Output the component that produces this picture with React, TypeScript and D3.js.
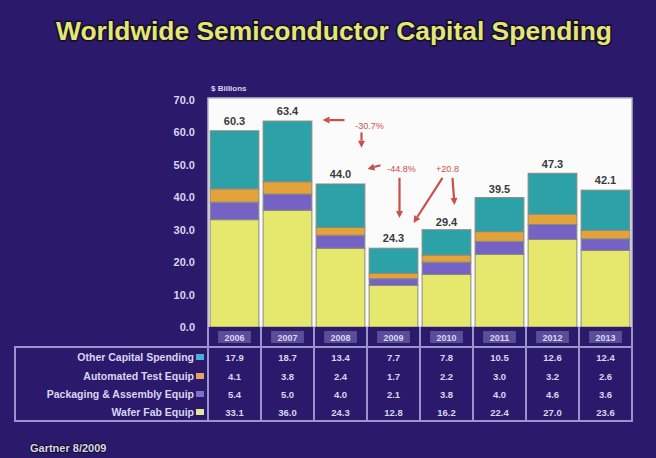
import { useMemo } from "react";
import * as d3 from "d3";

const YEARS = ["2006", "2007", "2008", "2009", "2010", "2011", "2012", "2013"];
const OTHER = [17.9, 18.7, 13.4, 7.7, 7.8, 10.5, 12.6, 12.4];
const ATE = [4.1, 3.8, 2.4, 1.7, 2.2, 3.0, 3.2, 2.6];
const PACKAGING = [5.4, 5.0, 4.0, 2.1, 3.8, 4.0, 4.6, 3.6];
const WAFER = [33.1, 36.0, 24.3, 12.8, 16.2, 22.4, 27.0, 23.6];
const TOTALS = [60.3, 63.4, 44.0, 24.3, 29.4, 39.5, 47.3, 42.1];
const Y_TICKS = [0, 10, 20, 30, 40, 50, 60, 70];

// stack order bottom -> top
const SERIES = [
  { key: "wafer", label: "Wafer Fab Equip", values: WAFER, color: "#e6e86e", swatch: "#dfe89a" },
  { key: "pack", label: "Packaging & Assembly Equip", values: PACKAGING, color: "#7462c4", swatch: "#7a70d0" },
  { key: "ate", label: "Automated Test Equip", values: ATE, color: "#e4a23a", swatch: "#e8a060" },
  { key: "other", label: "Other Capital Spending", values: OTHER, color: "#2ca2a8", swatch: "#48aee0" },
];
const TABLE_ORDER = ["other", "ate", "pack", "wafer"];

const BG = "#2b1a6c";
const LINE = "#9a94cc";
const TXT = "#d8d6f0";
const RED = "#c8504a";
const FONT = "'Liberation Sans', Arial, sans-serif";

export default function App() {
  const W = 656;
  const H = 458;
  const plot = { left: 208, right: 632, top: 98, bottom: 327 };

  const x = d3.scaleBand<string>().domain(YEARS).range([plot.left, plot.right]).paddingInner(0.08).paddingOuter(0.04);
  const y = d3.scaleLinear().domain([0, 70]).range([plot.bottom, plot.top + 2]);

  const stacked = useMemo(() => {
    const rows = YEARS.map((yr, i) => {
      const r: Record<string, number | string> = { year: yr };
      SERIES.forEach((s) => (r[s.key] = s.values[i]));
      return r;
    });
    return d3.stack<Record<string, number | string>>().keys(SERIES.map((s) => s.key))(rows as never);
  }, []);

  const step = (plot.right - plot.left) / YEARS.length;
  const colX = (i: number) => plot.left + step * i;
  const rowY = [357, 376, 394, 412];
  const tableTop = 347;
  const tableBottom = 421;
  const cx = (yr: string) => x(yr)! + x.bandwidth() / 2;

  const arrow = (x1: number, y1: number, x2: number, y2: number, k: string) => {
    const a = Math.atan2(y2 - y1, x2 - x1);
    const hl = 7;
    const hw = 3.5;
    const bx = x2 - hl * Math.cos(a);
    const by = y2 - hl * Math.sin(a);
    const p = [
      [x2, y2],
      [bx + hw * Math.sin(a), by - hw * Math.cos(a)],
      [bx - hw * Math.sin(a), by + hw * Math.cos(a)],
    ];
    return (
      <g key={k}>
        <line x1={x1} y1={y1} x2={bx} y2={by} stroke={RED} strokeWidth={2.2} />
        <polygon points={p.map((q) => q.join(",")).join(" ")} fill={RED} />
      </g>
    );
  };

  return (
    <svg width={W} height={H} style={{ position: "absolute", left: 0, top: 0 }} fontFamily={FONT}>
      <rect width={W} height={H} fill={BG} />

      {/* title */}
      <text
        x={W / 2 + 6}
        y={40}
        textAnchor="middle"
        fontSize={25}
        fontWeight="bold"
        fill="#e4e67a"
        stroke="#141020"
        strokeWidth={3}
        paintOrder="stroke"
        textLength={556}
        lengthAdjust="spacingAndGlyphs"
      >
        Worldwide Semiconductor Capital Spending
      </text>

      {/* plot frame */}
      <rect x={plot.left} y={plot.top} width={plot.right - plot.left} height={plot.bottom - plot.top} fill="#fbfbfb" stroke="#b8b6c8" strokeWidth={1.5} />
      <text x={211} y={91} fontSize={8} fontWeight="bold" fill={TXT}>$ Billions</text>

      {/* y axis labels */}
      {Y_TICKS.map((t) => (
        <text key={t} x={195} y={y(t) + 4} textAnchor="end" fontSize={11} fontWeight="bold" fill={TXT}>
          {t.toFixed(1)}
        </text>
      ))}

      {/* bars */}
      {stacked.map((layer, li) =>
        layer.map((d, i) => (
          <rect
            key={`${li}-${i}`}
            x={x(YEARS[i])}
            y={y(d[1])}
            width={x.bandwidth()}
            height={y(d[0]) - y(d[1])}
            fill={SERIES[li].color}
            stroke="#8a8a7e"
            strokeWidth={1}
          />
        ))
      )}

      {/* totals */}
      {TOTALS.map((t, i) => (
        <text key={i} x={cx(YEARS[i])} y={y(t) - 6} textAnchor="middle" fontSize={11} fontWeight="bold" fill="#3a3a3a">
          {t.toFixed(1)}
        </text>
      ))}

      {/* annotations */}
      {arrow(cx("2008") + 4, y(63.8), cx("2008") - 18, y(63.8), "a1")}
      <text x={cx("2008") + 29} y={y(61.1)} textAnchor="middle" fontSize={9} fill={RED}>-30.7%</text>
      {arrow(cx("2008") + 21, y(60), cx("2008") + 21, y(55.3), "a2")}
      {arrow(cx("2008") + 40, y(49.9), cx("2008") + 27, y(48.7), "a3")}
      <text x={cx("2009") + 8} y={y(47.9)} textAnchor="middle" fontSize={9} fill={RED}>-44.8%</text>
      {arrow(cx("2009") + 6, y(46), cx("2009") + 6, y(33.6), "a4")}
      <text x={cx("2010") + 1} y={y(47.9)} textAnchor="middle" fontSize={9} fill={RED}>+20.8</text>
      {arrow(cx("2010") - 4, y(46), cx("2009") + 20, y(32.1), "a5")}
      {arrow(cx("2010") + 6, y(46), cx("2010") + 8, y(37.6), "a6")}

      {/* year header */}
      <rect x={plot.left} y={plot.bottom} width={plot.right - plot.left} height={tableTop - plot.bottom} fill={BG} />
      {YEARS.map((yr) => (
        <g key={yr}>
          <rect x={x(yr)! + 8} y={plot.bottom + 4} width={x.bandwidth() - 16} height={12} fill="#5a4e98" />
          <text x={cx(yr)} y={plot.bottom + 14} textAnchor="middle" fontSize={9} fontWeight="bold" fill={TXT}>
            {yr}
          </text>
        </g>
      ))}

      {/* table */}
      <rect x={15} y={tableTop} width={plot.right - 15} height={tableBottom - tableTop} fill="none" stroke={LINE} strokeWidth={2} />
      {d3.range(YEARS.length + 1).map((i) => (
        <line key={i} x1={colX(i)} x2={colX(i)} y1={plot.bottom} y2={tableBottom} stroke={LINE} strokeWidth={2} />
      ))}
      {TABLE_ORDER.map((k, r) => {
        const s = SERIES.find((q) => q.key === k)!;
        return (
          <g key={k}>
            <text x={194} y={rowY[r] + 3.5} textAnchor="end" fontSize={10.5} fontWeight="bold" fill={TXT}>
              {s.label}
            </text>
            <rect x={196} y={rowY[r] - 3} width={8} height={6} fill={s.swatch} />
            {s.values.map((v, i) => (
              <text key={i} x={cx(YEARS[i])} y={rowY[r] + 3.5} textAnchor="middle" fontSize={9.5} fontWeight="bold" fill={TXT}>
                {v.toFixed(1)}
              </text>
            ))}
          </g>
        );
      })}

      {/* source */}
      <text x={30} y={452} fontSize={11} fontWeight="bold" fill={TXT} stroke="#15102a" strokeWidth={2} paintOrder="stroke">
        Gartner 8/2009
      </text>
    </svg>
  );
}
